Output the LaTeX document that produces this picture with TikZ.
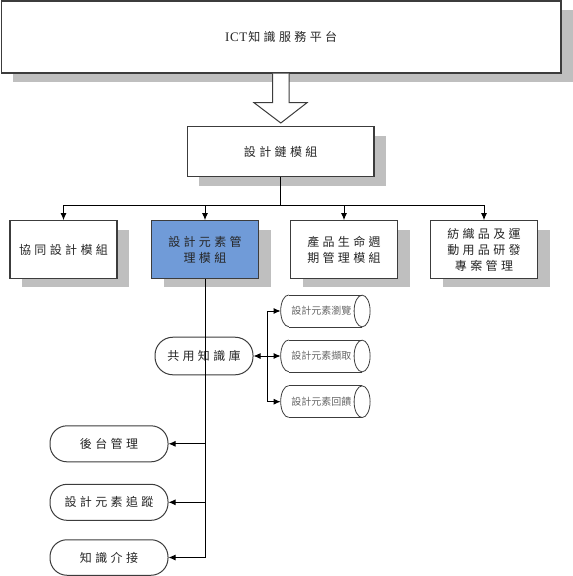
\documentclass[tikz,border=0pt]{standalone}
\usepackage{fontspec}
\setmainfont{Liberation Serif}
\newfontfamily\cjk{Noto Sans CJK TC}[LetterSpace=28]
\newfontfamily\cjksmall{Noto Sans CJK TC}
\usetikzlibrary{shapes.geometric,shapes.misc,arrows.meta,shadows}
\definecolor{bluefill}{RGB}{112,155,216}
\definecolor{shadowgrey}{RGB}{191,191,191}
\definecolor{edge}{RGB}{60,60,60}
\tikzset{
  boxsh/.style={draw=edge, line width=1.2pt, fill=white, inner sep=0pt, align=center,
    drop shadow={shadow xshift=12pt, shadow yshift=-9pt, fill=shadowgrey, opacity=1},
    font=\cjk\fontsize{12}{16}\selectfont, text=black!85},
  modbox/.style={boxsh, minimum width=107pt, minimum height=57.5pt},
  stadium/.style={draw=edge, line width=1pt, fill=white, rounded corners=17pt, inner sep=0pt,
    minimum width=118pt, minimum height=36pt, font=\cjk\fontsize{12}{16}\selectfont, text=black!85},
  cyl/.style={rectangle, inner sep=0pt, minimum width=89pt, minimum height=31.7pt,
    font=\cjksmall\fontsize{10}{12}\selectfont, text=black!60},
  cylline/.style={draw=edge, line width=0.8pt},
  arr/.style={draw=black, line width=1pt, -{Latex[length=7pt,width=6pt]}},
  ln/.style={draw=black, line width=1pt}
}
\newcommand{\cylout}[1]{%
  \draw[cylline] ([xshift=8pt]#1.north west) -- ([xshift=-8pt]#1.north east);
  \draw[cylline] ([xshift=8pt]#1.south west) -- ([xshift=-8pt]#1.south east);
  \draw[cylline] ([xshift=-8pt]#1.east) ellipse [x radius=8pt, y radius=15.85pt];
  \draw[cylline] ([xshift=8pt]#1.north west) arc[start angle=90, end angle=270, x radius=8pt, y radius=15.85pt];
}
\begin{document}
\begin{tikzpicture}[x=1pt,y=-1pt]
\useasboundingbox (0,0) rectangle (573,576);
% top box
\node[boxsh, minimum width=559.5pt, minimum height=72pt] (top) at (281.2,37) {{\rmfamily\fontsize{13}{16}\selectfont I\kern0.6pt C\kern0.6pt T\kern1pt}知識服務平台};
% block arrow
\draw[fill=white, draw=edge, line width=1pt] (272.7,73.7) -- (272.7,102.7) -- (254,102.7) -- (280.8,123) -- (307,102.7) -- (289,102.7) -- (289,73.7);
% chain module
\node[boxsh, minimum width=186.5pt, minimum height=50pt] (chain) at (280.7,151.7) {設計鏈模組};
% module row
\node[modbox] (ma) at (63.5,249.5) {協同設計模組};
\node[modbox, fill=bluefill] (mb) at (205,249.5) {設計元素管\\理模組};
\node[modbox] (mc) at (344,249.5) {產品生命週\\期管理模組};
\node[modbox] (md) at (484,249.5) {紡織品及運\\動用品研發\\專案管理};
% bus
\coordinate (bus) at (280.7,205);
\draw[ln] (chain.south) -- (bus);
\draw[arr] (bus) -| (ma.north);
\draw[arr] (bus) -| (mb.north);
\draw[arr] (bus) -| (mc.north);
\draw[arr] (bus) -| (md.north);
% shared knowledge base and cylinders
\node[stadium, minimum width=98pt, minimum height=37.6pt, rounded corners=18pt] (kb) at (204,356) {共用知識庫};
\node[cyl] (c1) at (325.4,311) {\hspace*{-8pt}設計元素瀏覽};
\node[cyl] (c2) at (325.4,356) {\hspace*{-8pt}設計元素擷取};
\node[cyl] (c3) at (325.4,401.7) {\hspace*{-8pt}設計元素回饋};
\cylout{c1}
\cylout{c2}
\cylout{c3}
\coordinate (bus2) at (267.7,356);
\draw[line width=1pt, {Latex[length=7pt,width=6pt]}-{Latex[length=7pt,width=6pt]}] (kb.east) -- (c2.west);
\draw[arr] (bus2) |- (c1.west);
\draw[arr] (bus2) |- (c3.west);
% left stadiums
\node[stadium] (k1) at (109,443.8) {後台管理};
\node[stadium] (k2) at (109,502.3) {設計元素追蹤};
\node[stadium, minimum height=35.5pt] (k3) at (109,557.5) {知識介接};
\coordinate (jb) at (205,557.5);
\draw[ln] (mb.south) -- (jb);
\draw[arr] (jb) -- (k3.east);
\draw[arr] (mb.south |- k1.east) -- (k1.east);
\draw[arr] (mb.south |- k2.east) -- (k2.east);
\end{tikzpicture}
\end{document}
